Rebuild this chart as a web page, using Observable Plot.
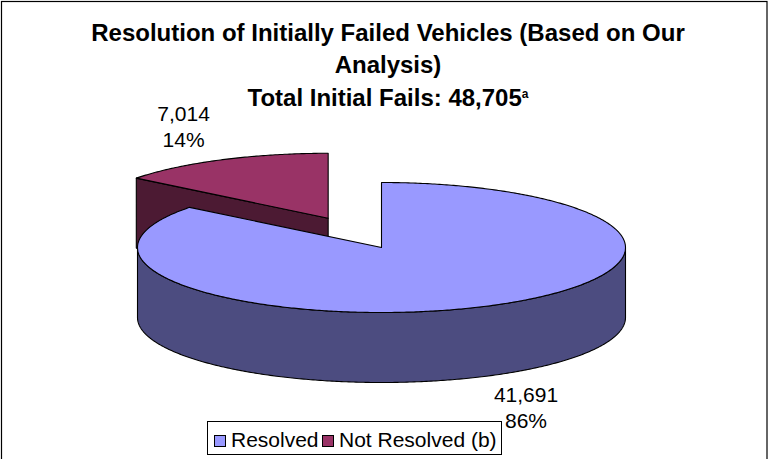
<!DOCTYPE html>
<html>
<head>
<meta charset="utf-8">
<script src="https://cdn.jsdelivr.net/npm/d3@7"></script>
<script src="https://cdn.jsdelivr.net/npm/@observablehq/plot@0.6"></script>
<style>
  html, body { margin: 0; padding: 0; background: #fff; }
  body { font-family: "Liberation Sans", Arial, sans-serif; color: #000; }
  #wrap { position: relative; width: 768px; height: 459px; overflow: hidden; }
  #wrap svg { position: absolute; left: 0; top: 0; }
  #title { position: absolute; left: 0; top: 16.5px; width: 776px; text-align: center;
           font-weight: bold; font-size: 24px; line-height: 32.8px; }
  #title sup { font-size: 12px; vertical-align: 8px; line-height: 0; }
  #legend { position: absolute; left: 207px; top: 421px; width: 293px; height: 32px;
            border: 1px solid #000; background: #fff; font-size: 21px; line-height: 32px;
            white-space: nowrap; }
  #legend .item { position: absolute; top: 2px; }
  #legend .sw { display: inline-block; width: 10px; height: 10px; border: 1px solid #000;
                margin-right: 5px; vertical-align: 0px; }
</style>
</head>
<body>
<div id="wrap">
  <div id="chart"></div>
  <div id="title"></div>
  <div id="legend"></div>
</div>
<script>
// ---- data ----
const titleLines = ["Resolution of Initially Failed Vehicles (Based on Our", "Analysis)", "Total Initial Fails: 48,705"];
const titleNote = "a";
const categories = ["Resolved", "Not Resolved (b)"];
const values = [41691, 7014];
const topColors = ["#9999FF", "#993366"];
const sideColors = ["#4C4C80", "#4C1A33"];
const explode = [0, 0.5];

// ---- geometry (pie units: radius = 1) ----
const tilt = 65 / 244;   // vertical squash of the ellipse
const depth = 70 / 244;  // thickness of the pie
const total = d3.sum(values);
let acc = 0;
const slices = values.map((v, i) => {
  const a0 = acc / total * 2 * Math.PI;
  acc += v;
  const a1 = acc / total * 2 * Math.PI;
  const mid = (a0 + a1) / 2;
  return {i, v, a0, a1, mid,
          ox: explode[i] * Math.sin(mid),
          oy: -explode[i] * Math.cos(mid) * tilt};
});
const pt = (s, a, r, h) => ({x: s.ox + r * Math.sin(a), y: s.oy - r * Math.cos(a) * tilt + h * depth});
const arcPts = (s, b0, b1, h) => {
  const n = Math.max(2, Math.ceil(Math.abs(b1 - b0) / 0.01));
  return d3.range(n + 1).map(k => pt(s, b0 + (b1 - b0) * k / n, 1, h));
};
const close = p => p.concat([p[0]]);

const faceMarks = [];
const style = {x: "x", y: "y", stroke: "#000", strokeWidth: 1.1, strokeLinejoin: "round", curve: "linear"};
// draw back slices first (by how far back their middle is)
const order = slices.slice().sort((a, b) => (a.oy - Math.cos(a.mid) * tilt) - (b.oy - Math.cos(b.mid) * tilt));
for (const s of order) {
  // radial faces
  for (const [a, nrm] of [[s.a0, s.a0 - Math.PI / 2], [s.a1, s.a1 + Math.PI / 2]]) {
    if (Math.cos(nrm) < -1e-6) {
      const poly = [pt(s, a, 0, 0), pt(s, a, 1, 0), pt(s, a, 1, 1), pt(s, a, 0, 1)];
      faceMarks.push(Plot.line(close(poly), {...style, fill: sideColors[s.i]}));
    }
  }
  // outer curved side (front half only)
  const b0 = Math.max(s.a0, Math.PI / 2), b1 = Math.min(s.a1, 3 * Math.PI / 2);
  if (b1 > b0) {
    const poly = arcPts(s, b0, b1, 0).concat(arcPts(s, b1, b0, 1));
    faceMarks.push(Plot.line(close(poly), {...style, fill: sideColors[s.i]}));
  }
  // top face
  const top = [pt(s, 0, 0, 0)].concat(arcPts(s, s.a0, s.a1, 0));
  faceMarks.push(Plot.line(close(top), {...style, fill: topColors[s.i]}));
}

// labels
const fmt = d3.format(",");
const labels = slices.map(s => {
  const p = pt(s, s.mid, 1.355, 0);
  const front = -Math.cos(s.mid) > 0;
  return {x: p.x, y: p.y - Math.cos(s.mid) * 0.053 + (front ? depth : 0),
          text: fmt(s.v) + "\n" + Math.round(s.v / total * 100) + "%"};
});

const chart = Plot.plot({
  width: 768, height: 459,
  margin: 0,
  style: {background: "transparent", overflow: "visible"},
  x: {domain: [-1, 1], range: [137, 625], axis: null},
  y: {domain: [-1, 1], range: [247 - 244, 247 + 244], axis: null},
  marks: [
    Plot.frame({stroke: "#000", strokeWidth: 1.2, insetLeft: 1, insetTop: 1, insetRight: 1.5, insetBottom: -10}),
    ...faceMarks,
    Plot.text(labels, {x: "x", y: "y", text: "text", fontSize: 21, lineHeight: 1.25, dy: -2,
                       fill: "#000", fontFamily: "Liberation Sans, Arial, sans-serif"})
  ]
});
document.getElementById("chart").append(chart);

// title
const t = document.getElementById("title");
t.innerHTML = titleLines.map((l, i) => i === titleLines.length - 1 ? l + "<sup>" + titleNote + "</sup>" : l).join("<br>");

// legend
const lg = document.getElementById("legend");
const itemLeft = [6, 114];
categories.forEach((c, i) => {
  const it = document.createElement("span");
  it.className = "item";
  it.style.left = itemLeft[i] + "px";
  it.innerHTML = `<span class="sw" style="background:${topColors[i]}"></span>${c}`;
  lg.append(it);
});
</script>
</body>
</html>
